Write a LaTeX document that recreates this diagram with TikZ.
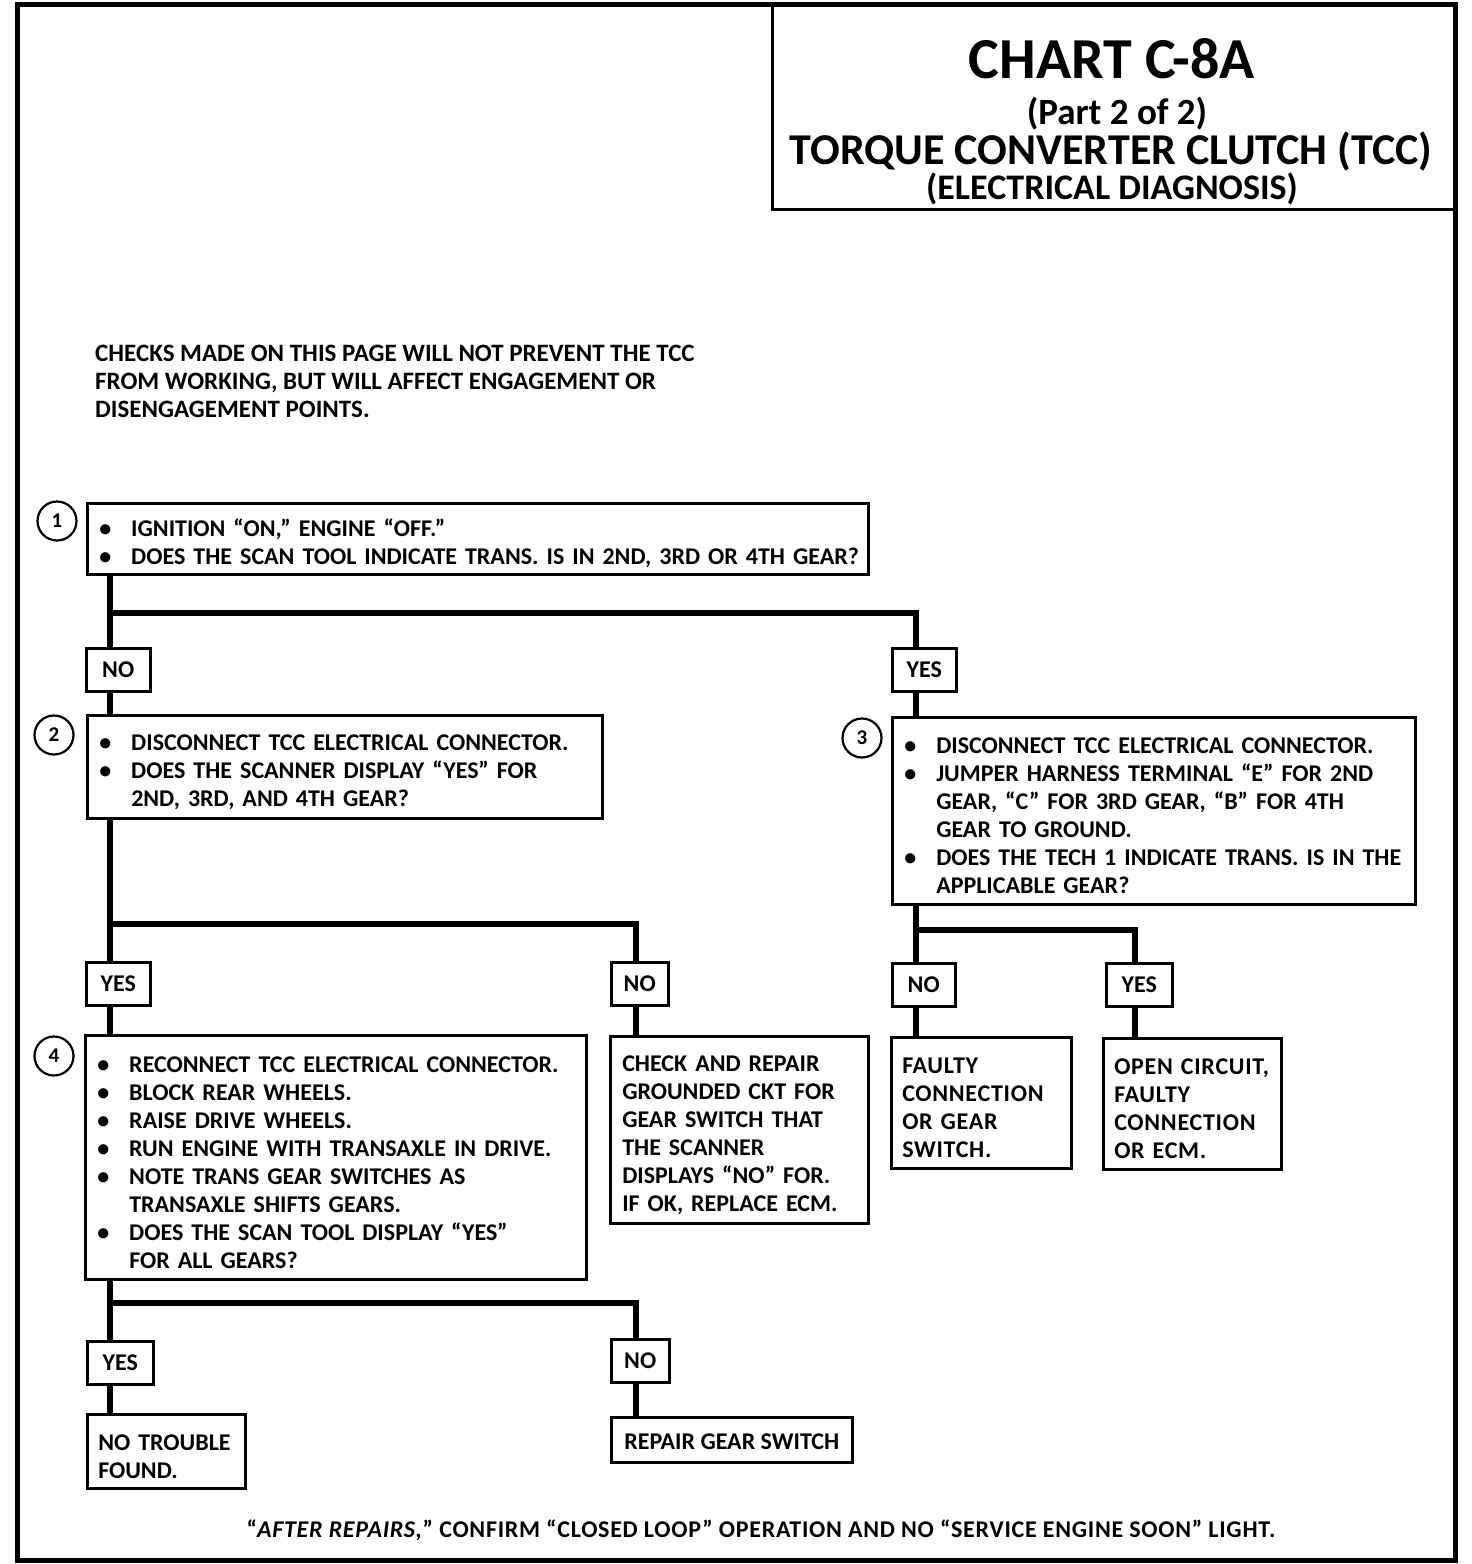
\documentclass[tikz,border=0pt]{standalone}
\usepackage{fontspec}
\setmainfont{Carlito}
\usetikzlibrary{positioning,calc}

\newcommand{\bul}{\makebox[32pt][l]{\textbullet}}
\newcommand{\ind}{\hspace*{32pt}}
\newcommand{\wide}{\addfontfeature{LetterSpace=3}}

\begin{document}
\begin{tikzpicture}[
    x=1pt, y=-1pt,
    font=\bfseries\fontsize{24}{28}\selectfont,
    stepbox/.style={draw, line width=2.5pt, anchor=north west, align=left, inner xsep=12pt, inner ysep=0pt,
      execute at begin node={\rule{0pt}{26pt}}},
    answer/.style={draw, line width=2.5pt, anchor=north west, minimum height=43pt, inner sep=0pt},
    stepnum/.style={circle, draw, line width=2.2pt, minimum size=39pt, inner sep=0pt, font=\bfseries\fontsize{21}{21}\selectfont},
    heading/.style={inner sep=0pt},
    conn/.style={line width=6pt},
  ]
    \useasboundingbox (0,0) rectangle (1472,1564);
    \draw[line width=5pt] (17,4) rectangle (1455,1560);

    % title block
    \draw[line width=3pt] (772,4) -- (772,209) -- (1455,209);
    \node[heading, font=\bfseries\fontsize{58}{58}\selectfont] (title) at (1112,59) {CHART C-8A};
    \node[heading, font=\bfseries\fontsize{37}{37}\selectfont] (part) at (1117,114) {(Part 2 of 2)};
    \node[heading, font=\bfseries\fontsize{44}{44}\selectfont] (sub) at (1111,151) {TORQUE CONVERTER CLUTCH (TCC)};
    \node[heading, font=\bfseries\fontsize{36}{36}\selectfont] (sub2) at (1112,189) {(ELECTRICAL DIAGNOSIS)};

    \node[anchor=north west, align=left, inner sep=0pt, font=\bfseries\fontsize{25}{28}\selectfont] (note) at (95,345)
      {CHECKS MADE ON THIS PAGE WILL NOT PREVENT THE TCC\\
       FROM WORKING, BUT WILL AFFECT ENGAGEMENT OR\\
       DISENGAGEMENT POINTS.};

    % steps
    \node[stepbox, minimum width=781pt, minimum height=71pt, text width=765pt, inner xsep=8pt] (q1) at (86,502)
      {\hspace*{4pt}\bul IGNITION “ON,” ENGINE “OFF.”\\
       \hspace*{4pt}\bul DOES THE SCAN TOOL  INDICATE TRANS. IS IN 2ND, 3RD OR 4TH GEAR?};
    \node[stepnum] (n1) at (57,521) {1};

    \node[answer, minimum width=64pt] (no1) at (85,647) {NO};
    \node[answer, minimum width=64pt] (yes1) at (891,647) {YES};

    \node[stepbox, minimum width=515pt, minimum height=103pt, text width=491pt] (q2) at (86,714)
      {\bul DISCONNECT TCC ELECTRICAL CONNECTOR.\\
       \bul DOES THE SCANNER DISPLAY “YES” FOR\\
       \ind 2ND, 3RD, AND  4TH GEAR?};
    \node[stepnum] (n2) at (54,735) {2};

    \node[stepbox, minimum width=523pt, minimum height=187pt, text width=507pt, inner xsep=8pt] (q3) at (891,716)
      {\hspace*{4pt}\bul DISCONNECT TCC ELECTRICAL CONNECTOR.\\
       \hspace*{4pt}\bul JUMPER HARNESS TERMINAL “E” FOR 2ND\\
       \hspace*{4pt}\ind GEAR, “C” FOR 3RD GEAR, “B” FOR 4TH\\
       \hspace*{4pt}\ind GEAR TO GROUND.\\
       \hspace*{4pt}\bul DOES THE TECH 1 INDICATE TRANS. IS IN THE\\
       \hspace*{4pt}\ind APPLICABLE GEAR?};
    \node[stepnum] (n3) at (862,738) {3};

    \node[answer, minimum width=64pt] (yes2) at (85,961) {YES};
    \node[answer, minimum width=57pt] (no2) at (610,961) {NO};
    \node[answer, minimum width=63pt] (no3) at (891,962) {NO};
    \node[answer, minimum width=66pt] (yes3) at (1105,962) {YES};

    \node[stepbox, minimum width=501pt, minimum height=244pt, text width=477pt] (q4) at (84,1034)
      {\bul RECONNECT TCC ELECTRICAL CONNECTOR.\\
       \bul BLOCK REAR WHEELS.\\
       \bul RAISE DRIVE WHEELS.\\
       \bul RUN ENGINE WITH TRANSAXLE IN DRIVE.\\
       \bul NOTE TRANS GEAR SWITCHES AS\\
       \ind TRANSAXLE SHIFTS GEARS.\\
       \bul DOES THE SCAN TOOL DISPLAY “YES”\\
       \ind FOR ALL GEARS?};
    \node[stepnum] (n4) at (54,1056) {4};

    \node[stepbox, minimum width=258pt, minimum height=187pt, text width=234pt] (r2) at (609,1035)
      {CHECK AND REPAIR\\ GROUNDED CKT FOR\\ GEAR SWITCH THAT\\ THE SCANNER\\
       DISPLAYS  “NO” FOR.\\ IF OK, REPLACE ECM.};
    \node[stepbox, minimum width=180pt, minimum height=131pt, text width=158pt, inner xsep=11pt] (r3) at (890,1036)
      {\wide FAULTY\\ CONNECTION\\ OR  GEAR\\ SWITCH.};
    \node[stepbox, minimum width=178pt, minimum height=131pt, text width=156pt, inner xsep=11pt] (r4) at (1102,1037)
      {\wide OPEN CIRCUIT,\\ FAULTY\\ CONNECTION\\ OR ECM.};

    \node[answer, minimum width=66pt] (yes4) at (86,1340) {YES};
    \node[answer, minimum width=58pt] (no4) at (610,1338) {NO};
    \node[stepbox, minimum width=158pt, minimum height=74pt, text width=136pt, inner xsep=11pt] (r5) at (86,1413)
      {NO TROUBLE\\ FOUND.};
    \node[answer, minimum width=241pt, minimum height=45pt] (r6) at (610,1416)
      {\rule{0pt}{20pt}REPAIR GEAR SWITCH};

    \node[font=\bfseries\wide\fontsize{24}{28}\selectfont] (foot) at (761,1530)
      {“\textit{AFTER REPAIRS,}” CONFIRM “CLOSED LOOP” OPERATION AND NO “SERVICE ENGINE SOON” LIGHT.};

    % branch lines
    \coordinate (bus1) at (0,613);
    \coordinate (bus2) at (0,924);
    \coordinate (bus3) at (0,930);
    \coordinate (bus4) at (0,1303);

    \draw[conn] ([xshift=25pt]no1.north west |- q1.south) -- ([xshift=25pt]no1.north west);
    \draw[conn] ([xshift=25pt]no1.north west |- bus1) -| ([xshift=25pt]yes1.north west);
    \draw[conn] ([xshift=25pt]no1.south west) -- ([xshift=25pt]no1.south west |- q2.north);
    \draw[conn] ([xshift=25pt]yes1.south west) -- ([xshift=25pt]yes1.south west |- q3.north);

    \draw[conn] ([xshift=25pt]yes2.north west |- q2.south) -- ([xshift=25pt]yes2.north west);
    \draw[conn] ([xshift=25pt]yes2.north west |- bus2) -| ([xshift=26pt]no2.north west);
    \draw[conn] ([xshift=25pt]yes2.south west) -- ([xshift=25pt]yes2.south west |- q4.north);
    \draw[conn] ([xshift=26pt]no2.south west) -- ([xshift=26pt]no2.south west |- r2.north);

    \draw[conn] ([xshift=25pt]no3.north west |- q3.south) -- ([xshift=25pt]no3.north west);
    \draw[conn] ([xshift=25pt]no3.north west |- bus3) -| ([xshift=30pt]yes3.north west);
    \draw[conn] ([xshift=25pt]no3.south west) -- ([xshift=25pt]no3.south west |- r3.north);
    \draw[conn] ([xshift=30pt]yes3.south west) -- ([xshift=30pt]yes3.south west |- r4.north);

    \draw[conn] ([xshift=24pt]yes4.north west |- q4.south) -- ([xshift=24pt]yes4.north west);
    \draw[conn] ([xshift=24pt]yes4.north west |- bus4) -| ([xshift=26pt]no4.north west);
    \draw[conn] ([xshift=24pt]yes4.south west) -- ([xshift=24pt]yes4.south west |- r5.north);
    \draw[conn] ([xshift=26pt]no4.south west) -- ([xshift=26pt]no4.south west |- r6.north);
  \end{tikzpicture}
\end{document}
